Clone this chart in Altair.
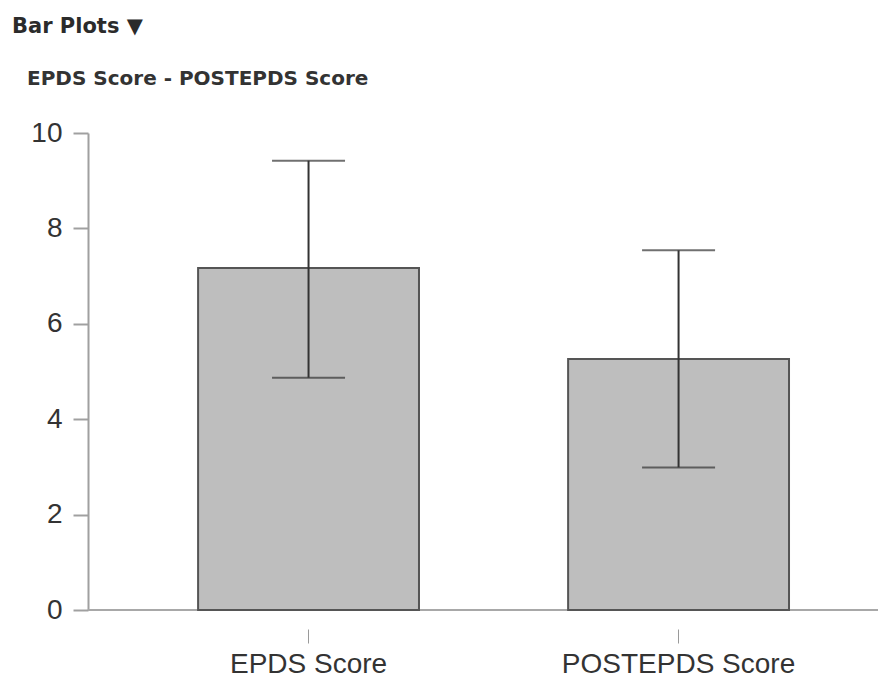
import altair as alt
import pandas as pd

# ---- data ----
categories = ["EPDS Score", "POSTEPDS Score"]
means = [7.17, 5.26]
lower = [4.87, 2.99]
upper = [9.42, 7.54]
y_ticks = [0, 2, 4, 6, 8, 10]
title_text = "Bar Plots \u25bc"
subtitle_text = "EPDS Score - POSTEPDS Score"

df = pd.DataFrame({"cat": categories, "mean": means, "lo": lower, "hi": upper})

xscale = alt.Scale(domain=categories, paddingInner=0.403, paddingOuter=0.269, align=0.553)
yscale = alt.Scale(domain=[0, 10], nice=False, zero=True)

x_axis = alt.Axis(
    title=None, labelAngle=0, domain=False, offset=19, tickSize=14,
    tickColor="#9a9a9a", tickWidth=1, labelPadding=7, labelFontSize=28,
    labelFont="Liberation Sans", labelColor="#333333", labelLimit=500,
)
y_axis = alt.Axis(
    title=None, values=y_ticks, grid=False, domainColor="#a0a0a0", domainWidth=2,
    tickColor="#a0a0a0", tickWidth=2, tickSize=15, labelPadding=11,
    labelFontSize=28, labelFont="Liberation Sans", labelColor="#333333",
)

X = alt.X("cat:N", scale=xscale, sort=categories, axis=x_axis)

base = alt.Chart(df)

baseline = alt.Chart(pd.DataFrame({"y": [0]})).mark_rule(
    color="#a8a8a8", strokeWidth=2
).encode(y=alt.Y("y:Q", scale=yscale, axis=y_axis))

bars = base.mark_bar(color="#bebebe", stroke="#555555", strokeWidth=2).encode(
    x=X, y=alt.Y("mean:Q", scale=yscale, axis=y_axis)
)

err = base.mark_rule(color="#333333", strokeWidth=2).encode(
    x=X, y=alt.Y("lo:Q", scale=yscale), y2="hi:Q"
)
cap_hi = base.mark_tick(color="#333333", thickness=2, size=73).encode(
    x=X, y=alt.Y("hi:Q", scale=yscale)
)
cap_lo = base.mark_tick(color="#333333", thickness=2, size=73).encode(
    x=X, y=alt.Y("lo:Q", scale=yscale)
)

title = alt.Chart(pd.DataFrame({"t": [title_text]})).mark_text(
    align="left", baseline="alphabetic", font="DejaVu Sans", fontWeight="bold",
    fontSize=21, color="#2b2b2b",
).encode(text="t:N", x=alt.value(-76), y=alt.value(-100))

subtitle = alt.Chart(pd.DataFrame({"t": [subtitle_text]})).mark_text(
    align="left", baseline="alphabetic", font="DejaVu Sans", fontWeight="bold",
    fontSize=20, color="#333333",
).encode(text="t:N", x=alt.value(-61), y=alt.value(-48))

chart = alt.layer(baseline, bars, err, cap_hi, cap_lo, title, subtitle).properties(
    width=790,
    height=477,
    padding={"left": 80, "top": 125, "right": 0, "bottom": 70},
    autosize=alt.AutoSizeParams(type="none"),
).configure_view(stroke=None)

chart.save("out.html", embed_options={"renderer": "svg", "actions": False})
